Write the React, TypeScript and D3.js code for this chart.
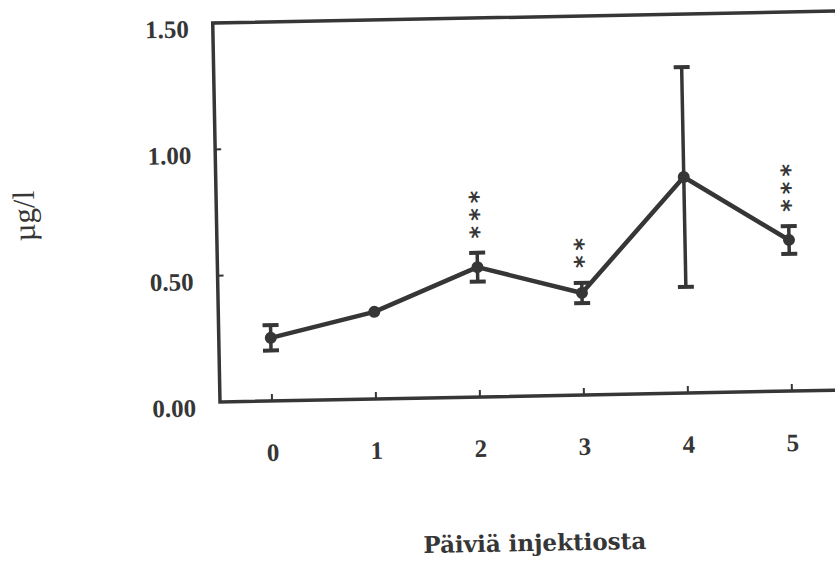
import React, { useRef, useEffect } from "react";
import * as d3 from "d3";

const days = [0, 1, 2, 3, 4, 5];
const means = [0.25, 0.345, 0.514, 0.404, 0.855, 0.598];
const errors = [0.05, 0, 0.057, 0.04, 0.435, 0.055];
const stars = ["", "", "***", "**", "", "***"];
const yTicks = [0, 0.5, 1.0, 1.5];
const yLabel = "µg/l";
const xLabel = "Päiviä injektiosta";

const App = () => {
  const svgRef = useRef<SVGSVGElement>(null);
  const width = 835;
  const height = 564;
  const plotW = 624;
  const plotH = 379;
  const ink = "#363636";
  const font = "'Liberation Serif', 'Times New Roman', serif";

  useEffect(() => {
    const svg = d3.select(svgRef.current);
    svg.selectAll("*").remove();

    // scanned page is slightly tilted, so the whole chart is rotated a touch
    const chart = svg.append("g").attr("transform", "translate(220,402) rotate(-1.1)");

    const x = d3.scaleLinear().domain([-0.5, 5.5]).range([0, plotW]);
    const y = d3.scaleLinear().domain([0, 1.5]).range([0, -plotH]);

    // frame
    chart
      .append("rect")
      .attr("x", 0)
      .attr("y", -plotH)
      .attr("width", plotW)
      .attr("height", plotH)
      .attr("fill", "none")
      .attr("stroke", ink)
      .attr("stroke-width", 3.5);

    // inward ticks
    chart
      .selectAll(".xtick")
      .data(days)
      .enter()
      .append("line")
      .attr("x1", (d) => x(d))
      .attr("x2", (d) => x(d))
      .attr("y1", 0)
      .attr("y2", -7)
      .attr("stroke", ink)
      .attr("stroke-width", 2);

    chart
      .selectAll(".ytick")
      .data(yTicks.slice(1, 3))
      .enter()
      .append("line")
      .attr("x1", 0)
      .attr("x2", 6)
      .attr("y1", (d) => y(d))
      .attr("y2", (d) => y(d))
      .attr("stroke", ink)
      .attr("stroke-width", 2);

    // tick labels
    chart
      .selectAll(".xlab")
      .data(days)
      .enter()
      .append("text")
      .attr("x", (d) => x(d))
      .attr("y", 60)
      .attr("text-anchor", "middle")
      .attr("font-family", font)
      .attr("font-weight", "bold")
      .attr("font-size", 25)
      .attr("fill", ink)
      .text((d) => d);

    chart
      .selectAll(".ylab")
      .data(yTicks)
      .enter()
      .append("text")
      .attr("x", -24)
      .attr("y", (d) => y(d) + 14)
      .attr("text-anchor", "end")
      .attr("font-family", font)
      .attr("font-weight", "bold")
      .attr("font-size", 25)
      .attr("fill", ink)
      .text((d) => d3.format(".2f")(d));

    // axis titles
    chart
      .append("text")
      .attr("x", plotW / 2)
      .attr("y", 155)
      .attr("text-anchor", "middle")
      .attr("font-family", "'DejaVu Serif', serif")
      .attr("font-weight", "bold")
      .attr("font-size", 23)
      .attr("fill", ink)
      .text(xLabel);

    chart
      .append("text")
      .attr("transform", `translate(-182,${-plotH / 2}) rotate(-90)`)
      .attr("text-anchor", "middle")
      .attr("font-family", font)
      .attr("font-size", 31)
      .attr("fill", ink)
      .text(yLabel);

    const pts = days.map((d, i) => ({ day: d, mean: means[i], err: errors[i], sig: stars[i] }));

    // error bars
    const eb = chart
      .selectAll(".eb")
      .data(pts.filter((p) => p.err > 0))
      .enter()
      .append("g");
    eb.append("line")
      .attr("x1", (p) => x(p.day))
      .attr("x2", (p) => x(p.day))
      .attr("y1", (p) => y(p.mean - p.err))
      .attr("y2", (p) => y(p.mean + p.err))
      .attr("stroke", ink)
      .attr("stroke-width", 3.5);
    [-1, 1].forEach((s) => {
      eb.append("line")
        .attr("x1", (p) => x(p.day) - 8)
        .attr("x2", (p) => x(p.day) + 8)
        .attr("y1", (p) => y(p.mean + s * p.err))
        .attr("y2", (p) => y(p.mean + s * p.err))
        .attr("stroke", ink)
        .attr("stroke-width", 4);
    });

    // mean line + markers
    const line = d3
      .line<{ day: number; mean: number }>()
      .x((p) => x(p.day))
      .y((p) => y(p.mean));
    chart
      .append("path")
      .attr("d", line(pts))
      .attr("fill", "none")
      .attr("stroke", ink)
      .attr("stroke-width", 4.5)
      .attr("stroke-linejoin", "round");

    chart
      .selectAll(".pt")
      .data(pts)
      .enter()
      .append("circle")
      .attr("cx", (p) => x(p.day))
      .attr("cy", (p) => y(p.mean))
      .attr("r", 6)
      .attr("fill", ink);

    // significance stars, one rotated string stacked above the bar
    const fs = 24;
    const step = 17;
    chart
      .selectAll(".sig")
      .data(pts.filter((p) => p.sig.length > 0))
      .enter()
      .append("text")
      .attr("transform", (p) => {
        const top = y(p.mean + p.err);
        const start = top - 22 - step * (p.sig.length - 1) - fs * 0.25;
        return `translate(${x(p.day) - fs * 0.59},${start}) rotate(90)`;
      })
      .attr("font-family", "'DejaVu Sans', sans-serif")
      .attr("font-weight", "bold")
      .attr("font-size", fs)
      .attr("letter-spacing", step - fs * 0.5)
      .attr("fill", ink)
      .text((p) => p.sig);
  }, []);

  return (
    <svg
      ref={svgRef}
      width={width}
      height={height}
      style={{ position: "absolute", left: 0, top: 0, background: "#fff" }}
    />
  );
};

export default App;
